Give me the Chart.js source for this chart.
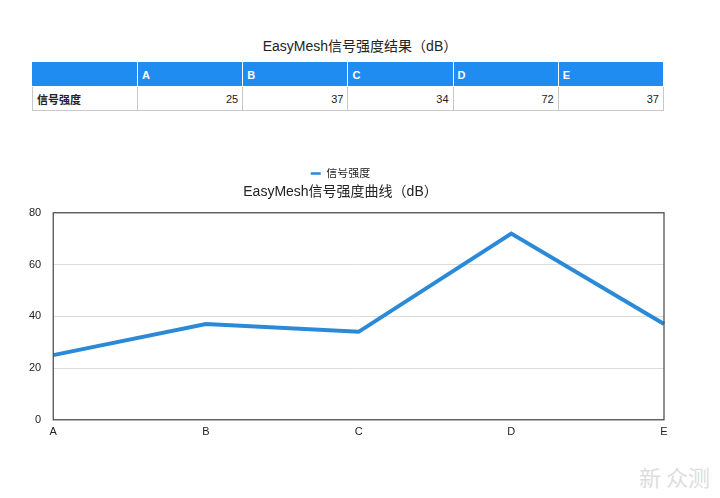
<!DOCTYPE html>
<html><head><meta charset="utf-8">
<script src="https://cdn.jsdelivr.net/npm/chart.js@4/dist/chart.umd.min.js"></script>
<style>
html,body{margin:0;padding:0;background:#fff;width:720px;height:498px;overflow:hidden;font-family:"Liberation Sans","Noto Sans CJK SC",sans-serif;}
#ttl{position:absolute;top:35px;left:0;width:720px;text-align:center;font-size:14px;color:#222;}
table{position:absolute;left:32px;top:62px;border-collapse:collapse;width:632px;table-layout:fixed;font-size:11px;}
th{background:#1e8cf0;color:#fff;text-align:left;height:23px;padding:0 4px;border:1px solid #fff;border-top:1px solid #1e8cf0;font-weight:bold;}
th:first-child{border-left:1px solid #1e8cf0;}
td{height:23px;padding:0 4px;border:1px solid #c8c8c8;text-align:right;color:#222;}
td:first-child{text-align:left;font-weight:bold;}
#wrap{position:absolute;left:0;top:168px;width:720px;height:277px;}
#wm{position:absolute;right:10px;bottom:6px;color:#ddd;font-size:22px;font-family:"Noto Sans CJK SC";}
</style></head><body>
<div id="ttl"></div>
<table id="tbl"></table>
<div id="wrap"><canvas id="c"></canvas></div>
<div id="wm">新 众测</div>
<script>
const categories = ["A","B","C","D","E"];
const seriesName = "信号强度";
const values = [25,37,34,72,37];
const yTicks = [0,20,40,60,80];
const tableTitle = "EasyMesh信号强度结果（dB）";
const chartTitle = "EasyMesh信号强度曲线（dB）";

document.getElementById('ttl').textContent = tableTitle;
const tbl = document.getElementById('tbl');
let h = '<colgroup><col style="width:105px">' + categories.map(()=>'<col>').join('') + '</colgroup>';
h += '<tr><th></th>' + categories.map(c=>'<th>'+c+'</th>').join('') + '</tr>';
h += '<tr><td>'+seriesName+'</td>' + values.map(v=>'<td>'+v+'</td>').join('') + '</tr>';
tbl.innerHTML = h;

const FONT = '"Liberation Sans","Noto Sans CJK SC",sans-serif';
const boxPlugin = {
  id:'box',
  afterDraw(chart){
    const a = chart.chartArea, ctx = chart.ctx;
    ctx.save(); ctx.strokeStyle='#444'; ctx.lineWidth=1.2;
    ctx.strokeRect(a.left, a.top, a.right-a.left, a.bottom-a.top);
    ctx.restore();
  }
};
new Chart(document.getElementById('c'), {
  type:'line',
  data:{labels:categories, datasets:[{label:seriesName, data:values, borderColor:'#2b8ad8', backgroundColor:'#2b8ad8', borderWidth:4, pointRadius:0, tension:0}]},
  options:{
    responsive:true, maintainAspectRatio:false, animation:false,
    layout:{padding:{left:17,right:56,top:0,bottom:0}},
    plugins:{
      legend:{weight:3000, labels:{usePointStyle:true, pointStyle:'line', pointStyleWidth:10, boxWidth:10, boxHeight:10, color:'#222', font:{family:FONT,size:11}, padding:0,
        generateLabels(chart){
          const items = Chart.defaults.plugins.legend.labels.generateLabels(chart);
          items.forEach(it=>{it.lineWidth=2.5;});
          return items;
        }}},
      title:{display:true, text:chartTitle, color:'#222', font:{family:FONT,size:14,weight:'normal'}, padding:{top:-5,bottom:12}},
      tooltip:{enabled:false}
    },
    scales:{
      x:{offset:false, grid:{display:false, tickLength:0}, border:{display:false}, ticks:{color:'#222', font:{family:FONT,size:11}, padding:6, maxRotation:0}},
      y:{min:0,max:80, afterBuildTicks(ax){ax.ticks=yTicks.map(v=>({value:v}));}, grid:{color:'#dcdcdc', drawTicks:false}, border:{display:false}, ticks:{color:'#222', font:{family:FONT,size:11}, padding:12}}
    }
  },
  plugins:[boxPlugin]
});
</script>
</body></html>
